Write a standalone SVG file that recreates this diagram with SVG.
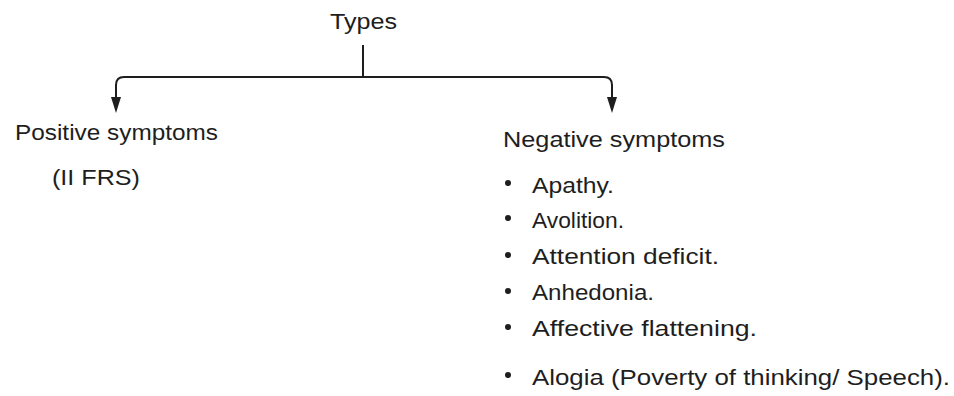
<svg xmlns="http://www.w3.org/2000/svg" width="954" height="396" viewBox="0 0 954 396">
<style>
text{font-family:"Liberation Sans","DejaVu Sans",sans-serif;font-size:22px;fill:#1e1e1e}
.ln{fill:none;stroke:#1e1e1e;stroke-width:2}
.dot{fill:#1e1e1e}
</style>
<rect width="954" height="396" fill="#ffffff"/>
<g id="connectors">
<path class="ln" d="M363,45 V77"/>
<path class="ln" d="M116,100 V85 Q116,77 124,77 H604 Q612,77 612,85 V100"/>
<path class="dot" d="M111,97 L116,113 L121,97 Z"/>
<path class="dot" d="M607,97 L612,113 L617,97 Z"/>
</g>
<g id="types"><text x="330" y="29" textLength="67" lengthAdjust="spacingAndGlyphs">Types</text></g>
<g id="positive">
<text x="15" y="140" textLength="203" lengthAdjust="spacingAndGlyphs">Positive symptoms</text>
<text x="52" y="185" textLength="88" lengthAdjust="spacingAndGlyphs">(II FRS)</text>
</g>
<g id="negative">
<text x="503" y="147" textLength="222" lengthAdjust="spacingAndGlyphs">Negative symptoms</text>
<circle class="dot" cx="508" cy="183" r="3"/><text x="532" y="193" textLength="82" lengthAdjust="spacingAndGlyphs">Apathy.</text>
<circle class="dot" cx="508" cy="218" r="3"/><text x="532" y="228" textLength="92" lengthAdjust="spacingAndGlyphs">Avolition.</text>
<circle class="dot" cx="508" cy="255" r="3"/><text x="532" y="264" textLength="187" lengthAdjust="spacingAndGlyphs">Attention deficit.</text>
<circle class="dot" cx="508" cy="291" r="3"/><text x="532" y="300" textLength="122" lengthAdjust="spacingAndGlyphs">Anhedonia.</text>
<circle class="dot" cx="508" cy="327" r="3"/><text x="532" y="336" textLength="225" lengthAdjust="spacingAndGlyphs">Affective flattening.</text>
<circle class="dot" cx="508" cy="375" r="3"/><text x="532" y="385" textLength="418" lengthAdjust="spacingAndGlyphs">Alogia (Poverty of thinking/ Speech).</text>
</g>
</svg>
